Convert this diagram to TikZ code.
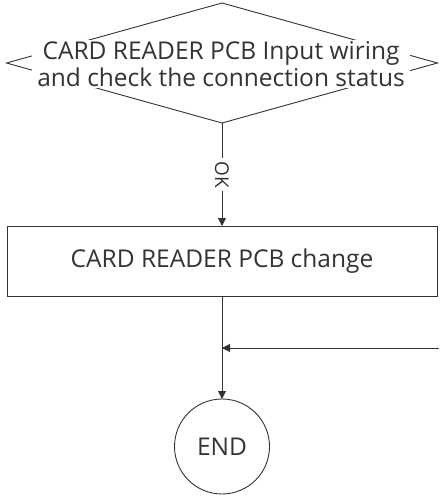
\documentclass[tikz,border=0pt]{standalone}
\usepackage{fontspec}
\setmainfont{Open Sans}
\usetikzlibrary{arrows.meta,shapes.geometric}
\definecolor{ln}{HTML}{333333}
\begin{document}
\begin{tikzpicture}[x=1pt,y=-1pt,
  every node/.style={text=ln},
  lbl/.style={font=\fontsize{24.5}{27}\selectfont, align=center},
  conn/.style={draw=ln, line width=0.9pt, -{Triangle[length=8pt,width=8pt]}},
  outline/.style={draw=ln, line width=0.9pt}]
\useasboundingbox (0,0) rectangle (439,497);
\node[outline, diamond, minimum width=431pt, minimum height=120pt, inner sep=0pt, outer sep=0pt] (dec) at (222,63) {};
\node[lbl, fill=white, inner xsep=5pt, inner ysep=1pt] (dectext) at (221,64) {CARD READER PCB Input wiring\\and check the connection status};
\node[outline, rectangle, minimum width=430pt, minimum height=70pt, inner sep=0pt, outer sep=0pt, lbl] (chg) at (222,261) {CARD READER PCB change};
\node[outline, circle, minimum size=95pt, inner sep=0pt, outer sep=0pt, lbl] (end) at (222,446.5) {END};
\coordinate (jn) at (222,348);
\coordinate (rin) at (439,348);
\draw[conn] (dec.south) -- node[lbl, fill=white, rotate=-90, inner sep=3pt, font=\fontsize{19}{20}\selectfont] (ok) {OK} (chg.north);
\draw[outline] (chg.south) -- (jn);
\draw[conn] (jn) -- (end.north);
\draw[conn] (rin) -- (jn);
\end{tikzpicture}
\end{document}
